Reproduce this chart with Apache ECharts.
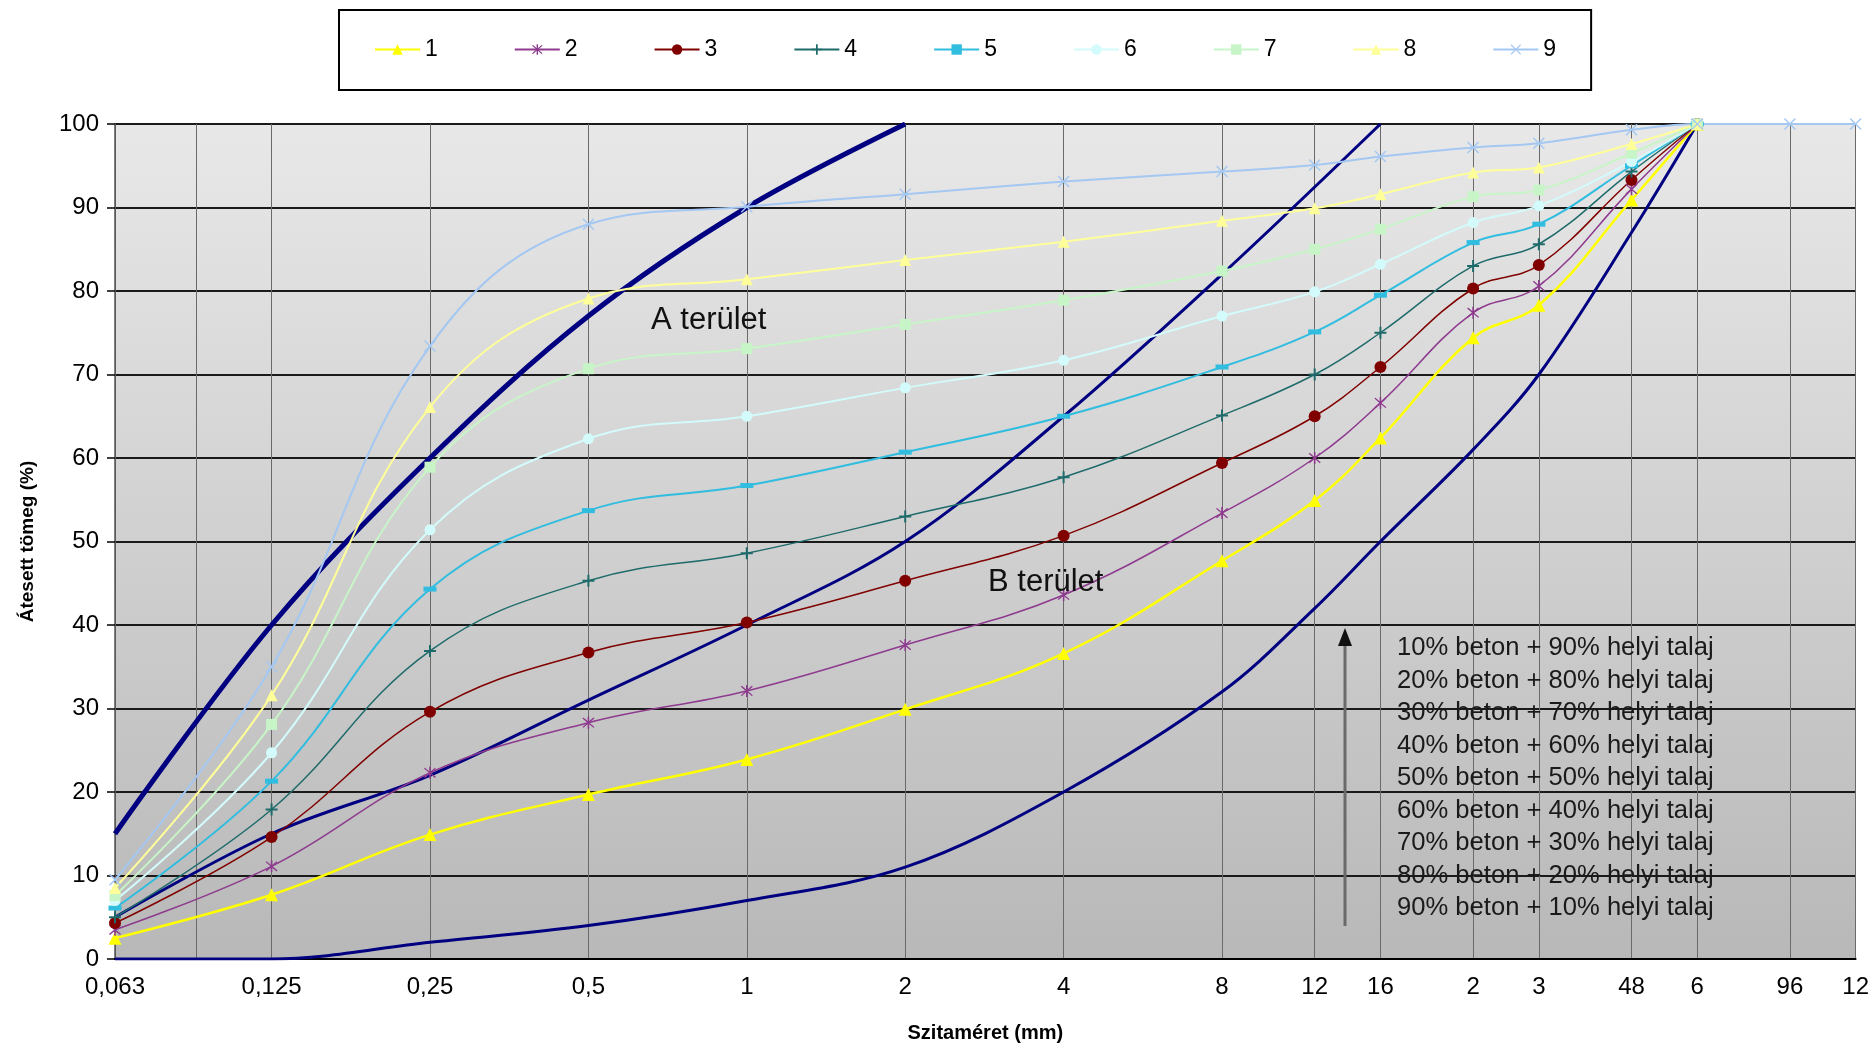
<!DOCTYPE html>
<html>
<head>
<meta charset="utf-8">
<script src="https://cdn.jsdelivr.net/npm/echarts@6/dist/echarts.min.js"></script>
<style>
  html, body { margin: 0; padding: 0; background: #fff; }
  #chart-container { width: 1872px; height: 1048px; }
</style>
</head>
<body>
<div id="chart-container"></div>
<script>
var dom = document.getElementById("chart-container");
var myChart = echarts.init(dom, null, { renderer: "canvas" });

// sieve sizes (mm) used for the grid and the labels
var tickValues = [0.063, 0.09, 0.125, 0.25, 0.5, 1, 2, 4, 8, 12, 16, 24, 32, 48, 64, 96, 128];
var tickLabels = ["0,063", "", "0,125", "0,25", "0,5", "1", "2", "4", "8", "12", "16", "2", "3", "48", "6", "96", "12"];

// sieve sizes of the measured mixtures
var sieves = [0.063, 0.125, 0.25, 0.5, 1, 2, 4, 8, 12, 16, 24, 32, 48, 64];
var sieves9 = [0.063, 0.125, 0.25, 0.5, 1, 2, 4, 8, 12, 16, 24, 32, 48, 64, 96, 128];

var s1 = [2.5, 7.7, 14.9, 19.7, 23.9, 29.9, 36.6, 47.7, 54.9, 62.4, 74.4, 78.3, 90.9, 100];
var s2 = [3.5, 11.1, 22.3, 28.3, 32.1, 37.6, 43.6, 53.4, 60.0, 66.6, 77.4, 80.6, 92.2, 100];
var s3 = [4.3, 14.6, 29.6, 36.7, 40.3, 45.3, 50.7, 59.4, 65.0, 70.9, 80.3, 83.1, 93.3, 100];
var s4 = [5.0, 17.9, 36.9, 45.3, 48.6, 53.0, 57.7, 65.1, 70.0, 75.0, 83.0, 85.6, 94.3, 100];
var s5 = [6.1, 21.3, 44.3, 53.7, 56.7, 60.7, 65.0, 70.9, 75.1, 79.5, 85.8, 88.0, 95.0, 100];
var s6 = [7.0, 24.7, 51.4, 62.3, 65.0, 68.4, 71.7, 77.0, 79.9, 83.2, 88.2, 90.2, 95.5, 100];
var s7 = [7.6, 28.1, 58.9, 70.7, 73.1, 76.0, 78.9, 82.4, 85.0, 87.4, 91.3, 92.1, 96.5, 100];
var s8 = [8.5, 31.6, 66.1, 79.1, 81.4, 83.7, 85.9, 88.4, 89.9, 91.6, 94.2, 94.8, 97.6, 100];
var s9 = [9.5, 35.0, 73.4, 88.0, 90.1, 91.6, 93.1, 94.3, 95.1, 96.1, 97.2, 97.7, 99.3, 100, 100, 100];

// limit curves of the A and B zones
var upperX = [0.063, 0.125, 0.25, 0.5, 1, 2];
var upperY = [15, 40, 60, 77, 90, 100];
var midX = [0.063, 0.125, 0.25, 0.5, 1, 2, 4, 8, 16];
var midY = [5, 15, 22, 31, 40, 50, 65, 82, 100];
var lowX = [0.063, 0.125, 0.25, 0.5, 1, 2, 4, 8, 12, 16, 24, 32, 48, 64];
var lowY = [0, 0, 2, 4, 7, 11, 20, 32, 42, 50, 61, 70, 87, 100];

var mixNotes = [
  "10% beton + 90% helyi talaj",
  "20% beton + 80% helyi talaj",
  "30% beton + 70% helyi talaj",
  "40% beton + 60% helyi talaj",
  "50% beton + 50% helyi talaj",
  "60% beton + 40% helyi talaj",
  "70% beton + 30% helyi talaj",
  "80% beton + 20% helyi talaj",
  "90% beton + 10% helyi talaj"
];

var plusPath = "path://M-1,-6H1V-1H6V1H1V6H-1V1H-6V-1H-1Z";
var crossPath = "path://M-5,-6L0,-1L5,-6L6,-5L1,0L6,5L5,6L0,1L-5,6L-6,5L-1,0L-6,-5Z";
var starPath = "path://M-5,-6L0,-1L5,-6L6,-5L1,0L6,5L5,6L0,1L-5,6L-6,5L-1,0L-6,-5Z M-0.8,-7H0.8V7H-0.8Z";

function pairs(xs, ys) {
  return xs.map(function (x, i) { return [x, ys[i]]; });
}

function limitSeries(xs, ys, width) {
  return {
    type: "line",
    data: pairs(xs, ys),
    smooth: 0.35,
    smoothMonotone: "none",
    showSymbol: false,
    silent: true,
    lineStyle: { color: "#000080", width: width },
    z: 2
  };
}

function mixSeries(name, ys, xs, color, symbol, size, width) {
  return {
    name: name,
    type: "line",
    data: pairs(xs, ys),
    smooth: 0.4,
    symbol: symbol,
    symbolSize: size,
    itemStyle: { color: color },
    lineStyle: { color: color, width: width },
    z: 3
  };
}

function labelFor(v) {
  var best = 0, bestD = Infinity;
  tickValues.forEach(function (t, i) {
    var d = Math.abs(Math.log(v) - Math.log(t));
    if (d < bestD) { bestD = d; best = i; }
  });
  return tickLabels[best];
}

var option = {
  animation: false,
  legend: {
    data: ["1", "2", "3", "4", "5", "6", "7", "8", "9"],
    left: 339,
    top: 10,
    padding: [28, 35, 29, 35],
    itemGap: 76,
    itemWidth: 45,
    itemHeight: 13,
    borderColor: "#000",
    borderWidth: 2,
    backgroundColor: "#fff",
    textStyle: { fontSize: 23, color: "#000", fontFamily: "Liberation Sans" }
  },
  grid: {
    left: 115,
    right: 15,
    top: 124,
    bottom: 88,
    show: true,
    borderWidth: 0,
    backgroundColor: new echarts.graphic.LinearGradient(0, 0, 0, 1, [
      { offset: 0, color: "#e8e8e8" },
      { offset: 1, color: "#b8b8b8" }
    ])
  },
  xAxis: {
    type: "log",
    logBase: 2,
    min: 0.063,
    max: 128,
    name: "Szitaméret (mm)",
    nameLocation: "middle",
    nameGap: 64,
    nameTextStyle: { fontSize: 20, fontWeight: "bold", color: "#000", fontFamily: "Liberation Sans" },
    axisLine: { show: true, onZero: false, lineStyle: { color: "#000", width: 2 } },
    axisTick: { show: false, customValues: tickValues },
    axisLabel: {
      customValues: tickValues,
      formatter: labelFor,
      fontSize: 24,
      color: "#000",
      margin: 16,
      fontFamily: "Liberation Sans"
    },
    splitLine: { show: true, lineStyle: { color: "#6a6a6a", width: 1 } }
  },
  yAxis: {
    type: "value",
    min: 0,
    max: 100,
    interval: 10,
    name: "Átesett tömeg (%)",
    nameLocation: "middle",
    nameGap: 78,
    nameTextStyle: { fontSize: 19, fontWeight: "bold", color: "#000", fontFamily: "Liberation Sans" },
    axisLine: { show: true, lineStyle: { color: "#555", width: 1.5 } },
    axisTick: { show: true, length: 8, lineStyle: { color: "#000", width: 1.5 } },
    axisLabel: { fontSize: 24, color: "#000", margin: 16, fontFamily: "Liberation Sans" },
    splitLine: { show: true, lineStyle: { color: "#1a1a1a", width: 2 } }
  },
  graphic: [
    {
      type: "text",
      x: 651, y: 305,
      style: { text: "A terület", font: "31px Liberation Sans", fill: "#111" },
      z: 10
    },
    {
      type: "text",
      x: 988, y: 567,
      style: { text: "B terület", font: "31px Liberation Sans", fill: "#111" },
      z: 10
    },
    {
      type: "line",
      shape: { x1: 1345, y1: 926, x2: 1345, y2: 642 },
      style: { stroke: "#6a6a6a", lineWidth: 3 },
      z: 10
    },
    {
      type: "polygon",
      shape: { points: [[1345, 628], [1338, 646], [1352, 646]] },
      style: { fill: "#111" },
      z: 10
    },
    {
      type: "text",
      x: 1397, y: 632,
      style: {
        text: mixNotes.join("\n"),
        font: "25.6px Liberation Sans",
        lineHeight: 32.5,
        fill: "#1a1a1a"
      },
      z: 10
    }
  ],
  series: [
    limitSeries(lowX, lowY, 3),
    limitSeries(midX, midY, 3),
    limitSeries(upperX, upperY, 5),
    mixSeries("1", s1, sieves, "#ffff00", "triangle", 13, 2.5),
    mixSeries("2", s2, sieves, "#8e3a8e", starPath, 12, 1.5),
    mixSeries("3", s3, sieves, "#800000", "circle", 12, 1.5),
    mixSeries("4", s4, sieves, "#1f6b6b", plusPath, 12, 1.5),
    mixSeries("5", s5, sieves, "#30bde0", "rect", [13, 5], 2),
    mixSeries("6", s6, sieves, "#d4fbfb", "circle", 11, 2),
    mixSeries("7", s7, sieves, "#c8f5c8", "rect", 11, 2),
    mixSeries("8", s8, sieves, "#ffff99", "triangle", 12, 2),
    mixSeries("9", s9, sieves9, "#a4c8f2", crossPath, 12, 2)
  ]
};

myChart.setOption(option);

window.addEventListener("resize", function () {
  myChart.resize();
});
</script>
</body>
</html>
